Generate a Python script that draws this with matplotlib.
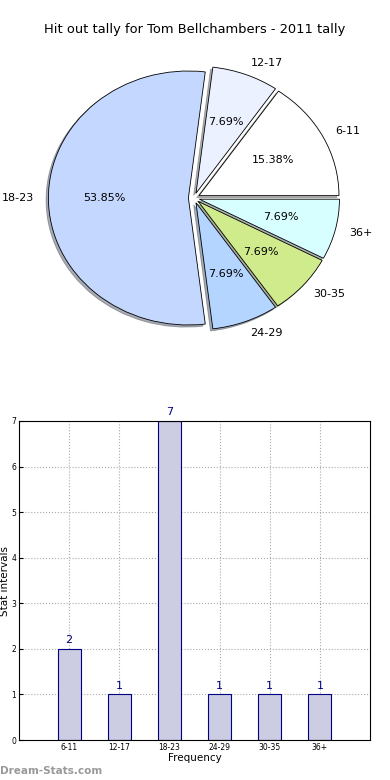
import matplotlib
matplotlib.use("Agg")
import matplotlib.pyplot as plt

# data
labels = ["6-11", "12-17", "18-23", "24-29", "30-35", "36+"]
counts = [2, 1, 7, 1, 1, 1]
pie_colors = ["#ffffff", "#ebf1ff", "#c4d7ff", "#b3d5ff", "#d0eb8c", "#d8ffff"]
title = "Hit out tally for Tom Bellchambers - 2011 tally"

fig = plt.figure(figsize=(3.9, 7.8), dpi=100)

# pie (old style, slightly elliptical)
ax1 = fig.add_axes([0, 1 - 350 / 780, 1, 300 / 780])
ax1.pie(counts, labels=labels, colors=pie_colors, explode=[0.04] * len(counts),
        autopct="%.2f%%", startangle=0, counterclock=True,
        shadow=dict(ox=-0.012, oy=-0.012, shade=0.6),
        wedgeprops=dict(edgecolor="black", linewidth=0.6),
        textprops=dict(fontsize=8))
ax1.set_aspect("auto")
ax1.set_xlim(-194 / 140, 196 / 140)
ax1.set_ylim(-(350 - 198) / 127, (198 - 50) / 127)
ax1.axis("off")
fig.text(0.5, 1 - 30 / 780, title, ha="center", va="center", fontsize=9.4)

# bar chart
ax2 = fig.add_axes([19 / 390, 1 - 740 / 780, 351 / 390, 319 / 780])
x = list(range(len(labels)))
bars = ax2.bar(x, counts, width=0.46, color="#cccce3", edgecolor="#000080", linewidth=0.8,
               zorder=2)
for b, v in zip(bars, counts):
    ax2.text(b.get_x() + b.get_width() / 2, v + 0.08, str(v), ha="center", va="bottom",
             color="#000080", fontsize=8)
ax2.set_xlim(-1, 6)
ax2.set_ylim(0, 7)
ax2.set_xticks(x)
ax2.set_xticklabels(labels, fontsize=5.5)
ax2.set_yticks(range(8))
ax2.tick_params(axis="y", labelsize=5.5)
ax2.tick_params(direction="in", length=3, pad=2)
ax2.grid(True, linestyle=":", color="#aaaaaa", linewidth=0.8, zorder=0)
ax2.set_xlabel("Frequency", fontsize=7.5, labelpad=1)
ax2.set_ylabel("Stat intervals", fontsize=7.5)
ax2.yaxis.set_label_coords(-0.025, 0.5)

fig.text(0.0, 1 - 771 / 780, "Dream-Stats.com", ha="left", va="center", fontsize=7.5,
         color="#999999", fontweight="bold")

fig.savefig("out.png", dpi=100)
